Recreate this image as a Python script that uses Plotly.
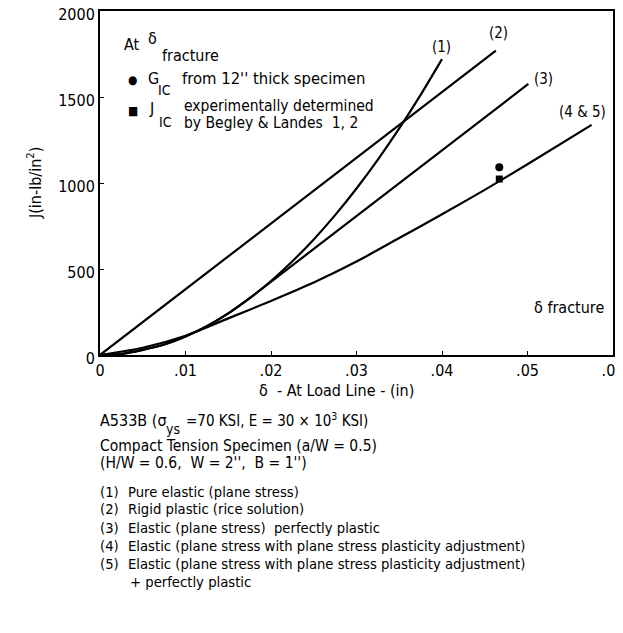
import plotly.graph_objects as go

# ---- data ----
delta_elastic = [0, 0.0025, 0.005, 0.0075, 0.01, 0.0125, 0.015, 0.0175, 0.02, 0.0225,
                 0.025, 0.0275, 0.03, 0.0325, 0.035, 0.0375, 0.04]
J_elastic = [0, 7, 30, 61, 108, 168, 242, 330, 430, 545, 672, 813, 968, 1136, 1317, 1512, 1720]

delta_rigid = [0, 0.0463]
J_rigid = [0, 1770]

delta_epp = [0, 0.0025, 0.005, 0.0075, 0.01, 0.0125, 0.015, 0.0176, 0.0501]
J_epp = [0, 7, 30, 61, 108, 168, 242, 334, 1576]

delta_45 = [0, 0.005, 0.01, 0.015, 0.02, 0.025, 0.03, 0.035, 0.04, 0.045, 0.05, 0.0575]
J_45 = [0, 42, 112, 213, 314, 421, 543, 680, 818, 960, 1109, 1338]

gic_delta = [0.0467]
gic_J = [1091]
jic_delta = [0.0467]
jic_J = [1023]

x_ticks = [0, 0.01, 0.02, 0.03, 0.04, 0.05, 0.06]
x_ticktext = ["0", ".01", ".02", ".03", ".04", ".05", ".06"]
y_ticks = [0, 500, 1000, 1500, 2000]
y_ticktext = ["0", "500", "1000", "1500", "2000"]

curve_labels = ["(1)", "(2)", "(3)", "(4 & 5)"]

notes = [
    "Compact Tension Specimen (a/W = 0.5)",
    "(H/W = 0.6,  W = 2'',  B = 1'')",
]
cases = [
    ("(1)", "Pure elastic (plane stress)"),
    ("(2)", "Rigid plastic (rice solution)"),
    ("(3)", "Elastic (plane stress)  perfectly plastic"),
    ("(4)", "Elastic (plane stress with plane stress plasticity adjustment)"),
    ("(5)", "Elastic (plane stress with plane stress plasticity adjustment)"),
    ("", "+ perfectly plastic"),
]

FONT = "Liberation Sans Narrow, DejaVu Sans Condensed, Arial Narrow, sans-serif"
W, H = 623, 633
OFF = 8  # page body margin
L, R, T, B = 100 - OFF, 18, 11 - OFF, 633 - (355 - OFF)
PW = W - L - R
PH = H - T - B


def P(xpx, ypx):
    # screen pixel -> paper coords
    return (xpx - OFF - L) / PW, (H - B - (ypx - OFF)) / PH


fig = go.Figure()
line = dict(color="black", width=2.2)
fig.add_trace(go.Scatter(x=delta_elastic, y=J_elastic, mode="lines", line=dict(**line, shape="spline", smoothing=0.6)))
fig.add_trace(go.Scatter(x=delta_rigid, y=J_rigid, mode="lines", line=line))
fig.add_trace(go.Scatter(x=delta_epp, y=J_epp, mode="lines", line=dict(**line, shape="spline", smoothing=0.4)))
fig.add_trace(go.Scatter(x=delta_45, y=J_45, mode="lines", line=dict(**line, shape="spline", smoothing=0.6)))
fig.add_trace(go.Scatter(x=gic_delta, y=gic_J, mode="markers", marker=dict(symbol="circle", size=8, color="black")))
fig.add_trace(go.Scatter(x=jic_delta, y=jic_J, mode="markers", marker=dict(symbol="square", size=7, color="black")))

ann = []
FS = 16


def text(xpx, ypx, s, size=FS, anchor="left", angle=0):
    xp, yp = P(xpx, ypx)
    ann.append(dict(x=xp, y=yp, xref="paper", yref="paper", text=s, showarrow=False,
                    xanchor=anchor, yanchor="middle", textangle=angle,
                    font=dict(family=FONT, size=size, color="black")))


# curve labels
text(441, 47, curve_labels[0], 15, "center")
text(498, 33, curve_labels[1], 15, "center")
text(543, 79, curve_labels[2], 15, "center")
text(582, 112, curve_labels[3], 15, "center")

# inner legend
text(122, 45, "At", 16)
text(146, 38, "δ", 16)
text(160, 55, "fracture", 16)
text(126, 80, "●", 12)
text(146, 78, "G", 16)
text(156, 90, "IC", 14)
text(180, 78, "from 12'' thick specimen", 16.5)
text(126, 111, "■", 12)
text(147, 109, "J", 16)
text(157, 122, "IC", 14)
text(182, 106, "experimentally determined", 15.5)
text(182, 123, "by Begley & Landes  1, 2", 15.5)
text(606, 307, "δ fracture", 16, "right")

# axis titles
text(336, 390, "δ  - At Load Line - (in)", 16, "center")
text(34, 183, "J(in-lb/in<sup>2</sup>)", 16, "center", -90)

# notes below
text(98, 420, "A533B (σ", 16)
text(164, 429, "ys", 14)
text(184, 420, "=70 KSI, E = 30 × 10<sup>3</sup> KSI)", 15)
text(98, 446, notes[0], 15.5)
text(98, 463, notes[1], 15.5)
for i, (num, desc) in enumerate(cases):
    y = 491 + 18 * i
    if num:
        text(98, y, num, 14.7)
    text(126 if num else 128, y, desc, 14.7)

axis_common = dict(showline=True, mirror=True, linecolor="black", linewidth=2,
                   ticks="inside", ticklen=4, tickcolor="black", showgrid=False,
                   zeroline=False, automargin=False, ticklabeloverflow="allow",
                   tickfont=dict(family=FONT, size=16, color="black"))

fig.update_layout(
    width=W, height=H,
    margin=dict(l=L, r=R, t=T, b=B),
    paper_bgcolor="white", plot_bgcolor="white",
    showlegend=False,
    annotations=ann,
    font=dict(family=FONT, size=16, color="black"),
    xaxis=dict(range=[0, 0.06], tickvals=x_ticks, ticktext=x_ticktext, **axis_common),
    yaxis=dict(range=[0, 2000], tickvals=y_ticks, ticktext=y_ticktext,
               ticklabelshift=3, **axis_common),
)

fig.write_html("out.html")
